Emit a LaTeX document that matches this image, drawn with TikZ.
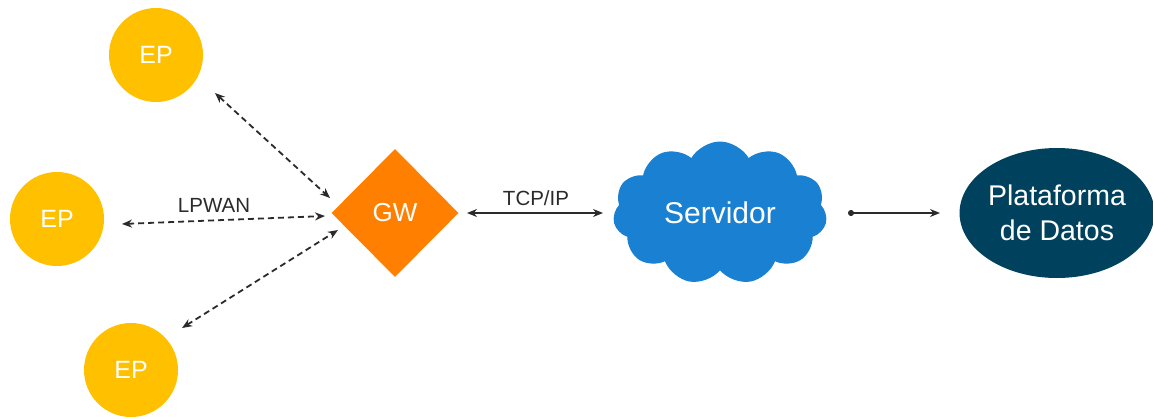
\documentclass[tikz,border=0pt]{standalone}
\usepackage{fontspec}
\setmainfont{Liberation Sans}
\usetikzlibrary{shapes.geometric,shapes.symbols,arrows.meta}
\definecolor{epyellow}{HTML}{FFC000}
\definecolor{gworange}{HTML}{FF7F00}
\definecolor{cloudblue}{HTML}{1A80D2}
\definecolor{platteal}{HTML}{00425E}
\definecolor{linegray}{HTML}{2B2B2B}
\tikzset{
  epnode/.style={circle, fill=epyellow, minimum size=94pt, inner sep=0pt, text=white, font=\fontsize{25}{30}\selectfont},
  gwnode/.style={diamond, fill=gworange, minimum width=127pt, minimum height=128pt, inner sep=0pt, text=white, font=\fontsize{26}{31}\selectfont},
  cloudnode/.style={cloud, cloud puffs=11, cloud puff arc=120, aspect=1.5, fill=cloudblue, minimum width=214pt, minimum height=143pt, inner sep=0pt, text=white, font=\fontsize{30}{36}\selectfont},
  platnode/.style={ellipse, fill=platteal, minimum width=190pt, minimum height=130pt, inner sep=0pt, text=white, align=center, font=\fontsize{28.5}{35}\selectfont},
  tip/.style={Stealth[length=10pt,width=8pt]},
  lora/.style={draw=linegray, line width=1.8pt, dash pattern=on 6pt off 4pt, {Stealth[length=10pt,width=8pt]}-{Stealth[length=10pt,width=8pt]}},
  solidlink/.style={draw=linegray, line width=1.5pt},
  lbl/.style={text=linegray, font=\fontsize{20.5}{24}\selectfont, inner sep=0pt}
}
\begin{document}
\begin{tikzpicture}[x=1pt,y=-1pt]
\useasboundingbox (0,0) rectangle (1153,418);
\node[epnode] (ep1) at (156,55) {EP};
\node[epnode] (ep2) at (57,219) {EP};
\node[epnode] (ep3) at (131,370) {EP};
\node[gwnode] (gw) at (395,213) {GW};
\node[cloudnode] (srv) at (720,213) {Servidor};
\node[platnode] (plat) at (1057,213) {Plataforma\\de Datos};
\coordinate (a1) at (215,93);
\coordinate (g1) at (330,198);
\coordinate (a2) at (122,224);
\coordinate (g2) at (325,216);
\coordinate (a3) at (182,328);
\coordinate (g3) at (338,230);
\draw[lora] (a1) -- (g1);
\draw[lora] (a2) -- (g2);
\draw[lora] (a3) -- (g3);
\node[lbl] (lpwan) at (214,205) {LPWAN};
\coordinate (t1) at (467,213);
\coordinate (t2) at (603,213);
\draw[solidlink, {Stealth[length=10pt,width=8pt]}-{Stealth[length=10pt,width=8pt]}] (t1) -- (t2);
\node[lbl] (tcp) at (536,198) {TCP/IP};
\coordinate (s1) at (848,213);
\coordinate (s2) at (940,213);
\draw[solidlink, {Circle[length=6pt]}-{Stealth[length=10pt,width=8pt]}] (s1) -- (s2);
\end{tikzpicture}
\end{document}
